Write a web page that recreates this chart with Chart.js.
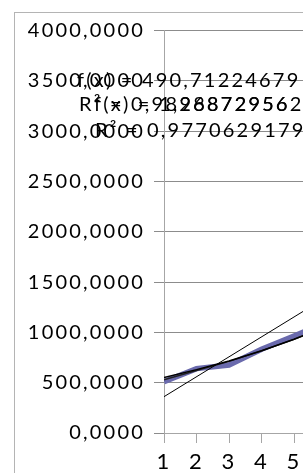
<!DOCTYPE html>
<html>
<head>
<meta charset="utf-8">
<script src="https://cdn.jsdelivr.net/npm/chart.js@4.4.1/dist/chart.umd.min.js"></script>
<style>
  html, body { margin: 0; padding: 0; background: #fff; overflow: hidden; }
  #chart { display: block; }
</style>
</head>
<body>
<canvas id="chart" width="340" height="473"></canvas>
<script>
// chart values
const categories = [1, 2, 3, 4, 5, 6];
const seriesValues = [510, 640, 675, 832, 964, 1100];
const expTrend = [552, 630, 716, 818, 931, 1060];
const powTrend = [530, 622, 712, 816, 930, 1058];
const linearTrendX = [1, 6];
const linearTrendY = [361, 1351];
const yTicks = [0, 500, 1000, 1500, 2000, 2500, 3000, 3500, 4000];
const equationLines = [
  'f(x) = 490,71224679',
  'R² = 0,9826872956',
  'f(x) = 1,9887295628',
  'R² = 0,9770629179'
];

const FONT = 'Lato';
const LETTER_SPACING = '2.2px';

const toPoints = (xs, ys) => xs.map((x, i) => ({ x: x, y: ys[i] }));

// Excel-ish look: text is spaced out a bit
const spacingPlugin = {
  id: 'spacing',
  beforeLayout(chart) { chart.ctx.letterSpacing = LETTER_SPACING; },
  beforeDraw(chart) {
    const ctx = chart.ctx;
    ctx.letterSpacing = LETTER_SPACING;
    // chart border
    ctx.save();
    ctx.strokeStyle = '#b4b4b4';
    ctx.lineWidth = 1;
    ctx.strokeRect(14.5, 12.5, 500, 600);
    ctx.restore();
  }
};

const equationPlugin = {
  id: 'equations',
  afterDraw(chart) {
    const ctx = chart.ctx;
    ctx.save();
    ctx.font = `20px ${FONT}`;
    ctx.fillStyle = '#000';
    ctx.textBaseline = 'middle';
    ctx.fillText(equationLines[0], 77, 81);
    ctx.fillText(equationLines[1], 79, 105);
    ctx.fillText(equationLines[2], 94, 105);
    ctx.fillText(equationLines[3], 95, 131);
    ctx.restore();
  }
};

new Chart(document.getElementById('chart'), {
  type: 'line',
  data: {
    datasets: [
      {
        label: 'linear',
        data: toPoints(linearTrendX, linearTrendY),
        borderColor: '#000',
        borderWidth: 1,
        pointRadius: 0,
        order: 1
      },
      {
        label: 'exp',
        data: toPoints(categories, expTrend),
        borderColor: '#000',
        borderWidth: 1.5,
        pointRadius: 0,
        order: 2
      },
      {
        label: 'pow',
        data: toPoints(categories, powTrend),
        borderColor: '#222',
        borderWidth: 1.5,
        pointRadius: 0,
        order: 3
      },
      {
        label: 'series',
        data: toPoints(categories, seriesValues),
        borderColor: '#6a6aad',
        borderWidth: 5.5,
        borderCapStyle: 'butt',
        pointRadius: 0,
        order: 4
      }
    ]
  },
  options: {
    responsive: false,
    animation: false,
    events: [],
    layout: { padding: { top: 30.5, left: 14, right: 11.4, bottom: 0 } },
    plugins: { legend: { display: false }, tooltip: { enabled: false } },
    scales: {
      x: {
        type: 'linear',
        min: categories[0],
        max: categories[categories.length - 1],
        afterBuildTicks(scale) { scale.ticks = categories.map(v => ({ value: v })); },
        afterFit(scale) { scale.height = 40; },
        ticks: { color: '#000', font: { family: FONT, size: 22 }, padding: 6, maxRotation: 0 },
        grid: { drawOnChartArea: false, tickLength: 10, tickColor: '#a6a6a6' },
        border: { color: '#a6a6a6' }
      },
      y: {
        min: yTicks[0],
        max: yTicks[yTicks.length - 1],
        afterBuildTicks(scale) { scale.ticks = yTicks.map(v => ({ value: v })); },
        afterFit(scale) { scale.width = 150; },
        ticks: {
          color: '#000',
          font: { family: FONT, size: 20 },
          padding: 9,
          callback: v => v.toFixed(4).replace('.', ',')
        },
        grid: { color: '#8c8c8c', tickColor: '#8c8c8c', tickLength: 10 },
        border: { color: '#a6a6a6' }
      }
    }
  },
  plugins: [spacingPlugin, equationPlugin]
});
</script>
</body>
</html>
